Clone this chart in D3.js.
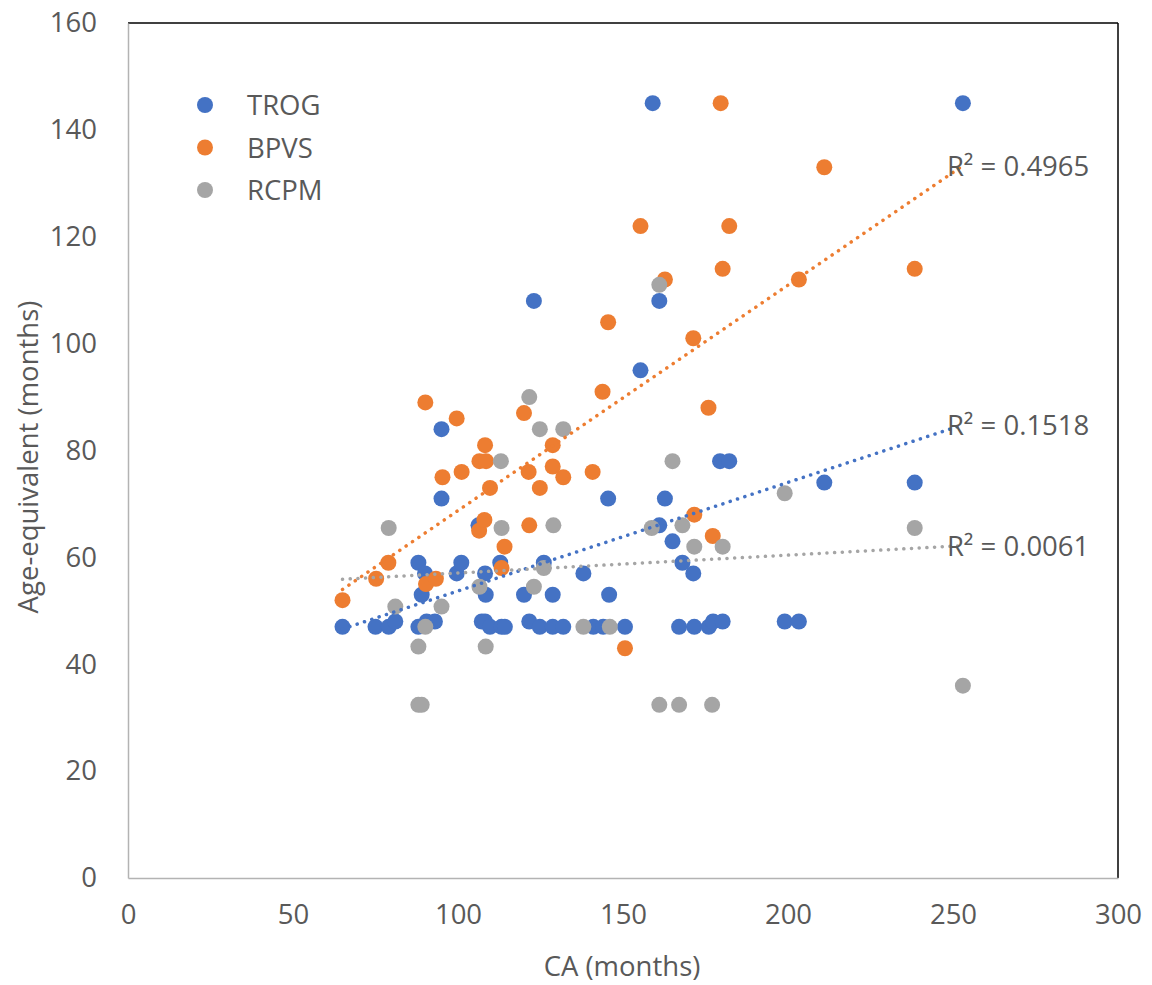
<!DOCTYPE html>
<html>
<head>
<meta charset="utf-8">
<script src="https://cdn.jsdelivr.net/npm/d3@7"></script>
<style>
  body { margin: 0; background: #fff; }
  text { font-family: "Open Sans", "Noto Sans", sans-serif; fill: #595959; }
</style>
</head>
<body>
<svg width="1152" height="985"></svg>
<script>
// CA (months), age-equivalent (months) per test
var trog = [[65,47],[75,47],[79,47],[81,48],[88,59],[88,47],[89,53],[90,57],[90.5,48],[93,48],[95,84],[95,71],[99.6,57],[101,59],[106.2,66],[107.2,48],[108.2,57],[108.4,53],[108.2,48],[109.7,47],[112.8,59],[113.2,47],[114.2,47],[120,53],[121.6,48],[123,108],[124.8,47],[126,59],[128.7,53],[128.7,47],[131.9,47],[138,57],[141,47],[144,47],[145.5,71],[145.8,53],[150.6,47],[155.3,95],[159,145],[161,108],[161,66],[162.7,71],[165,63],[167,47],[168,59],[171.3,57],[171.6,47],[176,47],[177.3,48],[179.4,78],[180.2,48],[182.2,78],[199,48],[203.3,48],[211,74],[238.4,74],[253,145]];
var bpvs = [[65,52],[75.2,56],[78.9,59],[90.1,89],[90.3,55],[93.3,56],[95.3,75],[99.6,86],[101.1,76],[106.4,65],[106.5,78],[108,67],[108.2,81],[108.5,78],[109.7,73],[113.2,58],[114.1,62],[120,87],[121.4,76],[121.6,66],[124.8,73],[128.7,81],[128.7,77],[131.9,75],[140.8,76],[143.8,91],[145.5,104],[150.6,43],[155.3,122],[162.7,112],[171.3,101],[171.6,68],[175.9,88],[177.2,64],[179.6,145],[180.2,114],[182.2,122],[203.3,112],[211,133],[238.4,114]];
var rcpm = [[79,65.5],[81,50.8],[88,43.3],[88,32.4],[89,32.4],[90.1,47],[95,50.8],[106.5,54.5],[108.4,43.3],[113,78],[113.2,65.5],[121.6,90],[123,54.5],[124.8,84],[126,58],[128.9,66],[131.9,84],[138,47],[146,47],[158.7,65.5],[161,111],[161,32.4],[165,78],[167,32.4],[168,66],[171.6,62],[177,32.4],[180.2,62],[199,72],[238.4,65.5],[253,36]];

var seriesNames = ['TROG', 'BPVS', 'RCPM'];
var seriesColors = ['#4472C4', '#ED7D31', '#A5A5A5'];

// linear trendlines, read at CA = 65 and CA = 253
var trendX = [65, 253];
var trendTrog = [46.6, 84.8];
var trendBpvs = [54.0, 133.3];
var trendRcpm = [55.9, 62.2];
var rSquared = ['R² = 0.1518', 'R² = 0.4965', 'R² = 0.0061'];

var xTicks = [0, 50, 100, 150, 200, 250, 300];
var yTicks = [0, 20, 40, 60, 80, 100, 120, 140, 160];

var fontSize = 27.5;

var margin = {top: 23, right: 34, bottom: 107, left: 128};
var width = 1152 - margin.left - margin.right;
var height = 985 - margin.top - margin.bottom;

var svg = d3.select('svg');
var g = svg.append('g').attr('transform', 'translate(' + margin.left + ',' + margin.top + ')');

var x = d3.scaleLinear().domain([0, 300]).range([0, width]);
var y = d3.scaleLinear().domain([0, 160]).range([height, 0]);

// frame: black top/right, grey axes
g.append('line').attr('x1', 0).attr('x2', width).attr('y1', 0).attr('y2', 0)
  .attr('stroke', '#000').attr('stroke-width', 1.5);
g.append('line').attr('x1', width).attr('x2', width).attr('y1', 0).attr('y2', height)
  .attr('stroke', '#000').attr('stroke-width', 1.5);

var xAxis = g.append('g')
  .attr('transform', 'translate(0,' + height + ')')
  .call(d3.axisBottom(x).tickValues(xTicks).tickSize(0).tickPadding(26));
var yAxis = g.append('g')
  .call(d3.axisLeft(y).tickValues(yTicks).tickSize(0).tickPadding(31));

[xAxis, yAxis].forEach(function(a) {
  a.select('.domain').attr('stroke', '#b3b3b3').attr('stroke-width', 1.5);
  a.selectAll('text').attr('font-size', fontSize).attr('fill', '#595959')
    .attr('font-family', '"Open Sans", sans-serif');
});

// points
var allSeries = [trog, bpvs, rcpm];
allSeries.forEach(function(data, i) {
  g.append('g').selectAll('circle')
    .data(data)
    .enter().append('circle')
    .attr('cx', function(d) { return x(d[0]); })
    .attr('cy', function(d) { return y(d[1]); })
    .attr('r', 8)
    .attr('fill', seriesColors[i]);
});

// trendlines
var trends = [trendTrog, trendBpvs, trendRcpm];
var line = d3.line()
  .x(function(d) { return x(d[0]); })
  .y(function(d) { return y(d[1]); });

trends.forEach(function(t, i) {
  var pts = trendX.map(function(v, j) { return [v, t[j]]; });
  g.append('path')
    .datum(pts)
    .attr('d', line)
    .attr('fill', 'none')
    .attr('stroke', seriesColors[i])
    .attr('stroke-width', 3.5)
    .attr('stroke-linecap', 'round')
    .attr('stroke-dasharray', '0.1 7.6');
});

trends.forEach(function(t, i) {
  g.append('text')
    .attr('x', x(trendX[1]) - 16)
    .attr('y', y(t[1]) + 10)
    .attr('font-size', fontSize)
    .text(rSquared[i]);
});

// legend
var legend = g.append('g');
seriesNames.forEach(function(name, i) {
  legend.append('circle')
    .attr('cx', 77).attr('cy', 82 + i * 42.5)
    .attr('r', 8).attr('fill', seriesColors[i]);
  legend.append('text')
    .attr('x', 119).attr('y', 82 + i * 42.5 + 10)
    .attr('font-size', fontSize)
    .text(name);
});

// axis titles
svg.append('text')
  .attr('x', 622)
  .attr('y', 976)
  .attr('text-anchor', 'middle')
  .attr('font-size', fontSize)
  .text('CA (months)');

svg.append('text')
  .attr('transform', 'translate(38,457) rotate(-90)')
  .attr('text-anchor', 'middle')
  .attr('font-size', fontSize)
  .text('Age-equivalent (months)');
</script>
</body>
</html>
